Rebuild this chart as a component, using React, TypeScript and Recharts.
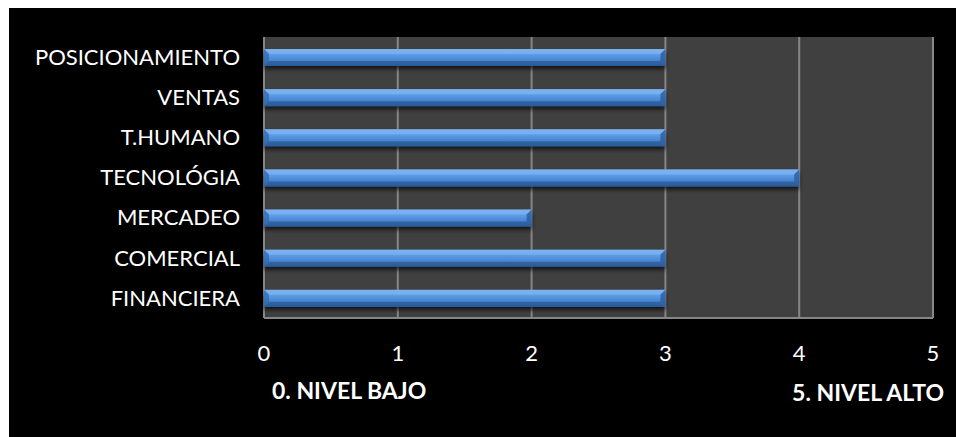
import { Bar, BarChart, CartesianGrid, XAxis, YAxis } from "recharts";

const areas = [
  "FINANCIERA",
  "COMERCIAL",
  "MERCADEO",
  "TECNOLÓGIA",
  "T.HUMANO",
  "VENTAS",
  "POSICIONAMIENTO",
];
const levels = [3, 3, 2, 4, 3, 3, 3];
const levelTicks = [0, 1, 2, 3, 4, 5];
const lowLabel = "0. NIVEL BAJO";
const highLabel = "5. NIVEL ALTO";

const data = areas.map((area, i) => ({ area, level: levels[i] })).reverse();

const FONT = "Lato, 'Open Sans', sans-serif";

// bevelled bar: flat face with lighter top edge, darker bottom edge and slanted ends
function BevelBar(props: any) {
  const { x, y, width, height } = props;
  if (!width || width <= 0) return null;
  const b = Math.min(5, height / 3);
  return (
    <g filter="url(#barShadow)">
      <rect x={x} y={y} width={width} height={height} fill="url(#barFace)" />
      <polygon
        points={`${x},${y} ${x + width},${y} ${x + width - b},${y + b} ${x + b},${y + b}`}
        fill="#8cbcf3"
        opacity={0.55}
      />
      <polygon
        points={`${x},${y + height} ${x + width},${y + height} ${x + width - b},${y + height - b} ${x + b},${y + height - b}`}
        fill="#234f86"
        opacity={0.55}
      />
      <polygon
        points={`${x},${y} ${x + b},${y + b} ${x + b},${y + height - b} ${x},${y + height}`}
        fill="#2f66ad"
        opacity={0.7}
      />
      <polygon
        points={`${x + width},${y} ${x + width - b},${y + b} ${x + width - b},${y + height - b} ${x + width},${y + height}`}
        fill="#2a5d9f"
        opacity={0.8}
      />
    </g>
  );
}

function AxisNotes(props: any) {
  const { viewBox } = props;
  const { x, y, width } = viewBox;
  return (
    <g fontFamily={FONT} fontWeight="bold" fontSize={23} fill="#ffffff">
      <text x={x + 8} y={y + 81}>
        {lowLabel}
      </text>
      <text x={x + width + 11} y={y + 83} textAnchor="end">
        {highLabel}
      </text>
    </g>
  );
}

export default function App() {
  return (
    <div
      style={{
        position: "absolute",
        left: 9,
        top: 8,
        width: 947,
        height: 429,
        background: "#000000",
      }}
    >
      <BarChart
        width={947}
        height={429}
        data={data}
        layout="vertical"
        barSize={17}
        margin={{ top: 29, right: 23, bottom: 89, left: 0 }}
      >
        <defs>
          <linearGradient id="barFace" x1="0" y1="0" x2="0" y2="1">
            <stop offset="0%" stopColor="#6aa6ec" />
            <stop offset="35%" stopColor="#5b9be6" />
            <stop offset="65%" stopColor="#4a86d2" />
            <stop offset="100%" stopColor="#3469ad" />
          </linearGradient>
          <filter id="barShadow" x="-5%" y="-30%" width="110%" height="180%">
            <feDropShadow dx="0" dy="3" stdDeviation="2" floodColor="#000000" floodOpacity="0.7" />
          </filter>
        </defs>
        <CartesianGrid
          horizontal={false}
          stroke="#868686"
          strokeWidth={2}
          fill="#404040"
          fillOpacity={1}
        />
        <XAxis
          type="number"
          domain={[0, 5]}
          ticks={levelTicks}
          interval={0}
          axisLine={{ stroke: "#868686", strokeWidth: 2 }}
          tickLine={false}
          tickSize={0}
          tickMargin={27}
          tick={{ fill: "#ffffff", fontSize: 22, fontFamily: FONT }}
          label={{ content: AxisNotes }}
        />
        <YAxis
          type="category"
          dataKey="area"
          width={255}
          axisLine={false}
          tickLine={false}
          tickSize={0}
          tickMargin={24}
          interval={0}
          tick={{ fill: "#ffffff", fontSize: 22, fontFamily: FONT }}
        />
        <Bar dataKey="level" shape={BevelBar} isAnimationActive={false} />
      </BarChart>
    </div>
  );
}
